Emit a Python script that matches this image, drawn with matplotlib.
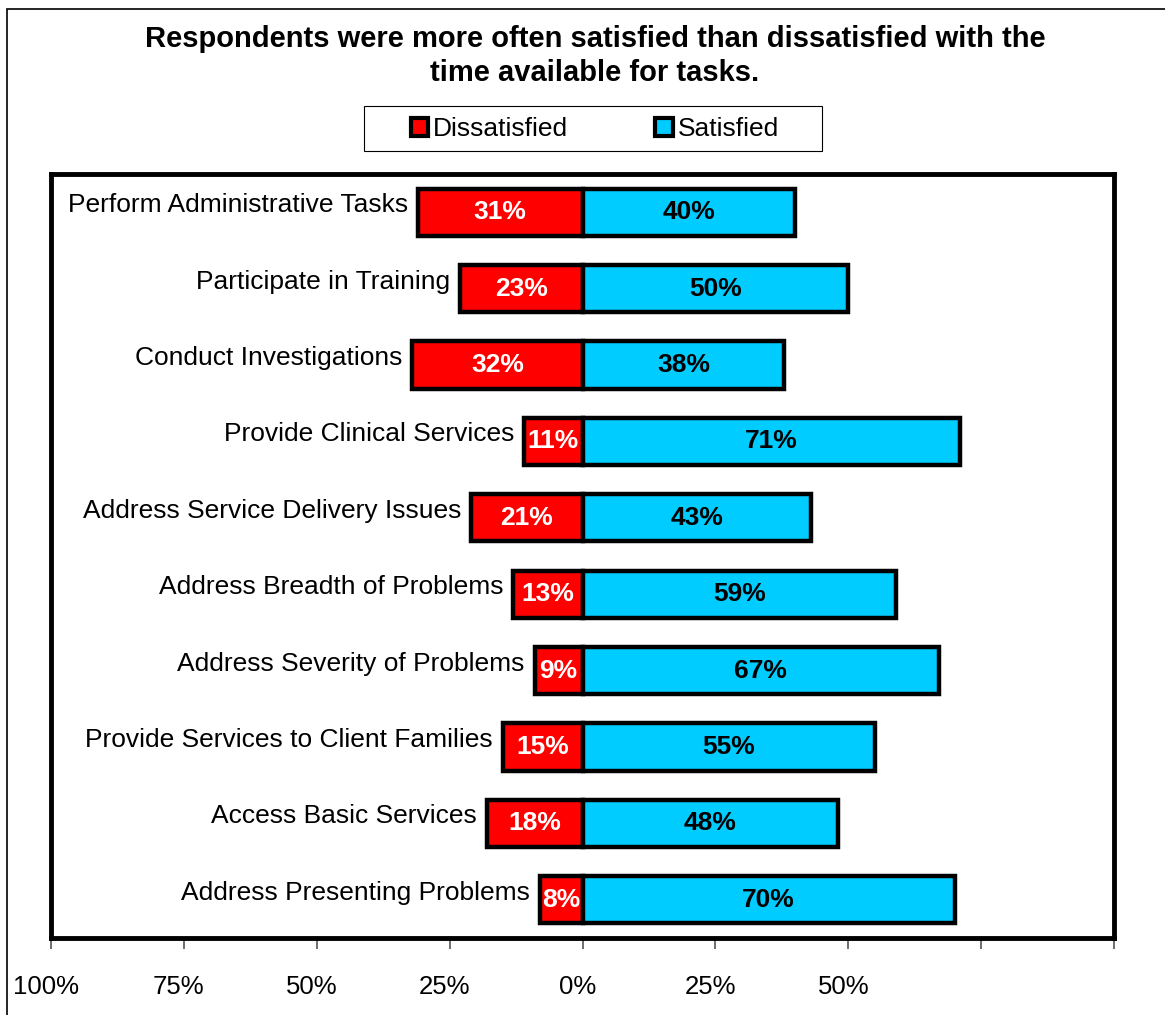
import matplotlib.pyplot as plt
import matplotlib.transforms as mtransforms
from matplotlib.patches import Rectangle, Patch

plt.rcParams['font.family'] = ['Liberation Sans', 'DejaVu Sans']

# tasks listed top to bottom
tasks = [
    'Perform Administrative Tasks',
    'Participate in Training',
    'Conduct Investigations',
    'Provide Clinical Services',
    'Address Service Delivery Issues',
    'Address Breadth of Problems',
    'Address Severity of Problems',
    'Provide Services to Client Families',
    'Access Basic Services',
    'Address Presenting Problems',
]
dissatisfied = [31, 23, 32, 11, 21, 13, 9, 15, 18, 8]
satisfied = [40, 50, 38, 71, 43, 59, 67, 55, 48, 70]

tick_vals = [-100, -75, -50, -25, 0, 25, 50, 75, 100]
tick_text = ['100%', '75%', '50%', '25%', '0%', '25%', '50%', '', '']

red = '#FF0000'
cyan = '#00CCFF'

fig = plt.figure(figsize=(11.65, 10.15), dpi=100)
ax = fig.add_axes([51 / 1165, 77 / 1015, 1063 / 1165, 764 / 1015])

ypos = list(range(len(tasks)))
ax.barh(ypos, [-d for d in dissatisfied], height=0.62, color=red,
        edgecolor='black', linewidth=3.2, zorder=3)
ax.barh(ypos, satisfied, height=0.62, color=cyan,
        edgecolor='black', linewidth=3.2, zorder=3)

for y, d, s, name in zip(ypos, dissatisfied, satisfied, tasks):
    ax.text(-d / 2, y, f'{d}%', ha='center', va='center', color='white',
            fontsize=19, fontweight='bold', zorder=4)
    ax.text(s / 2, y, f'{s}%', ha='center', va='center', color='black',
            fontsize=19, fontweight='bold', zorder=4)
    ax.annotate(name, xy=(-d, y), xytext=(-10, 7), textcoords='offset pixels',
                ha='right', va='center', fontsize=19, zorder=2)

ax.set_xlim(-100, 100)
ax.set_ylim(len(tasks) - 0.5, -0.5)
ax.set_yticks([])
ax.set_xticks(tick_vals)
ax.set_xticklabels(tick_text, fontsize=18.5)
ax.tick_params(axis='x', length=8, width=1.2, color='#555555', pad=19)
shift = mtransforms.ScaledTranslation(-5 / 100, 0, fig.dpi_scale_trans)
for lbl in ax.get_xticklabels():
    lbl.set_transform(lbl.get_transform() + shift)
for side in ['left', 'right', 'top', 'bottom']:
    ax.spines[side].set_linewidth(3.5)
    ax.spines[side].set_zorder(5)

# legend with a wide box drawn separately
handles = [Patch(facecolor=red, edgecolor='black', linewidth=3),
           Patch(facecolor=cyan, edgecolor='black', linewidth=3)]
fig.legend(handles, ['Dissatisfied', 'Satisfied'], loc='center',
           bbox_to_anchor=(595 / 1165, 1 - 129 / 1015), ncol=2,
           fontsize=19, frameon=False,
           handlelength=0.65, handleheight=0.65, handletextpad=0.2,
           columnspacing=3.3, borderaxespad=0)
fig.patches.append(Rectangle((364 / 1165, 1 - 151 / 1015), 458 / 1165,
                             45 / 1015, transform=fig.transFigure,
                             fill=False, edgecolor='black', linewidth=0.8))

fig.text(595 / 1165, 1 - 56 / 1015,
         'Respondents were more often satisfied than dissatisfied with the\n'
         'time available for tasks.',
         ha='center', va='center', fontsize=21, fontweight='bold',
         linespacing=1.3)

# outer chart border
fig.patches.append(Rectangle((7 / 1165, -0.05), 1.1, 1.05 - 9 / 1015,
                             transform=fig.transFigure, fill=False,
                             edgecolor='black', linewidth=1.2))

fig.savefig('out.png', dpi=100)
